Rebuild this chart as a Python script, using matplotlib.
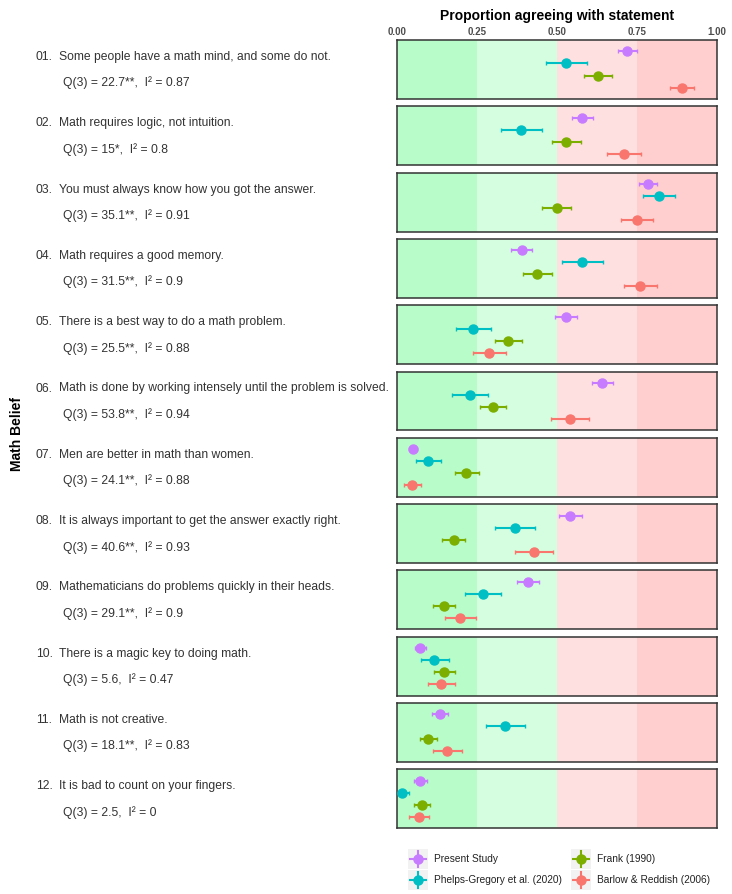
import matplotlib
matplotlib.use("Agg")
import matplotlib.pyplot as plt
from matplotlib.patches import Rectangle

plt.rcParams['font.family'] = ['Liberation Sans', 'DejaVu Sans']

# Datos
statements = [
    "Some people have a math mind, and some do not.",
    "Math requires logic, not intuition.",
    "You must always know how you got the answer.",
    "Math requires a good memory.",
    "There is a best way to do a math problem.",
    "Math is done by working intensely until the problem is solved.",
    "Men are better in math than women.",
    "It is always important to get the answer exactly right.",
    "Mathematicians do problems quickly in their heads.",
    "There is a magic key to doing math.",
    "Math is not creative.",
    "It is bad to count on your fingers.",
]
q_stats = ["22.7**", "15*", "35.1**", "31.5**", "25.5**", "53.8**",
           "24.1**", "40.6**", "29.1**", "5.6", "18.1**", "2.5"]
i2_stats = ["0.87", "0.8", "0.91", "0.9", "0.88", "0.94",
            "0.88", "0.93", "0.9", "0.47", "0.83", "0"]

studies = ["Present Study", "Phelps-Gregory et al. (2020)", "Frank (1990)", "Barlow & Reddish (2006)"]
colors = ["#C77CFF", "#00BFC4", "#7CAE00", "#F8766D"]

present_est = [0.72, 0.579, 0.783, 0.39, 0.527, 0.641, 0.049, 0.541, 0.41, 0.072, 0.134, 0.072]
present_lo = [0.69, 0.546, 0.755, 0.357, 0.493, 0.608, 0.036, 0.507, 0.375, 0.055, 0.11, 0.054]
present_hi = [0.75, 0.613, 0.812, 0.423, 0.562, 0.675, 0.062, 0.577, 0.444, 0.091, 0.159, 0.093]

phelps_est = [0.529, 0.389, 0.82, 0.579, 0.238, 0.228, 0.098, 0.368, 0.268, 0.117, 0.338, 0.017]
phelps_lo = [0.465, 0.326, 0.77, 0.516, 0.183, 0.173, 0.058, 0.306, 0.211, 0.075, 0.277, 0.002]
phelps_hi = [0.594, 0.452, 0.869, 0.643, 0.293, 0.284, 0.137, 0.431, 0.326, 0.161, 0.401, 0.037]

frank_est = [0.629, 0.529, 0.50, 0.439, 0.348, 0.299, 0.217, 0.178, 0.148, 0.148, 0.098, 0.077]
frank_lo = [0.585, 0.485, 0.454, 0.395, 0.306, 0.258, 0.18, 0.142, 0.114, 0.115, 0.071, 0.052]
frank_hi = [0.673, 0.574, 0.545, 0.483, 0.392, 0.341, 0.256, 0.213, 0.181, 0.181, 0.125, 0.103]

barlow_est = [0.89, 0.71, 0.749, 0.76, 0.288, 0.54, 0.048, 0.428, 0.198, 0.137, 0.157, 0.068]
barlow_lo = [0.853, 0.657, 0.70, 0.71, 0.236, 0.48, 0.021, 0.37, 0.151, 0.097, 0.114, 0.036]
barlow_hi = [0.928, 0.764, 0.801, 0.811, 0.342, 0.599, 0.075, 0.486, 0.246, 0.18, 0.202, 0.10]

series = [
    (present_est, present_lo, present_hi),
    (phelps_est, phelps_lo, phelps_hi),
    (frank_est, frank_lo, frank_hi),
    (barlow_est, barlow_lo, barlow_hi),
]

band_edges = [0, 0.25, 0.5, 0.75, 1.0]
band_colors = ["#B8FCC9", "#D4FEDF", "#FFE0E0", "#FFCFCF"]

W, H = 732, 894
fig = plt.figure(figsize=(W / 100, H / 100), dpi=100)

x0, x1 = 397, 717
top0, step, ph = 40, 66.3, 59
txt_col = "#333333"

for i in range(12):
    top = top0 + step * i
    ax = fig.add_axes([x0 / W, 1 - (top + ph) / H, (x1 - x0) / W, ph / H])
    for b in range(4):
        ax.axvspan(band_edges[b], band_edges[b + 1], color=band_colors[b], lw=0, zorder=0)
    for k, (est, lo, hi) in enumerate(series):
        ax.errorbar([est[i]], [k + 1], xerr=[[est[i] - lo[i]], [hi[i] - est[i]]],
                    fmt='o', color=colors[k], ms=6.5, elinewidth=1.5, capsize=1.5,
                    capthick=1.0, zorder=3, clip_on=False)
    ax.set_xlim(0, 1)
    ax.set_ylim(4.95, 0.05)
    ax.set_yticks([])
    for s in ax.spines.values():
        s.set_color("#333333")
        s.set_linewidth(1.1)
    if i == 0:
        ax.xaxis.tick_top()
        ax.set_xticks(band_edges)
        ax.set_xticklabels(["0.00", "0.25", "0.50", "0.75", "1.00"],
                           fontsize=7, color="#4d4d4d", fontweight='bold')
        ax.tick_params(axis='x', length=0, pad=2)
    else:
        ax.set_xticks([])

    # textos de la izquierda
    fig.text(36 / W, 1 - (top + 17) / H, "%02d." % (i + 1), fontsize=8.7,
             color=txt_col, va='center', ha='left')
    fig.text(59 / W, 1 - (top + 17) / H, statements[i], fontsize=8.7,
             color=txt_col, va='center', ha='left')
    fig.text(63 / W, 1 - (top + 43) / H,
             "Q(3) = %s,  I² = %s" % (q_stats[i], i2_stats[i]),
             fontsize=8.7, color=txt_col, va='center', ha='left')

fig.text((x0 + x1) / 2 / W, 1 - 16 / H, "Proportion agreeing with statement",
         fontsize=10, fontweight='bold', ha='center', va='center')
fig.text(17 / W, 1 - 434 / H, "Math Belief", fontsize=10, fontweight='bold',
         rotation=90, ha='center', va='center')

# leyenda dibujada a mano (claves con fondo gris)
lax = fig.add_axes([0, 0, 1, 1])
lax.set_xlim(0, W)
lax.set_ylim(H, 0)
lax.axis('off')
key_pos = [(418, 859), (418, 880), (581, 859), (581, 880)]
for (kx, ky), c, lab in zip(key_pos, colors, studies):
    lax.add_patch(Rectangle((kx - 10, ky - 10), 20, 20, color="#F2F2F2", lw=0))
    lax.plot([kx - 8, kx + 8], [ky, ky], color=c, lw=1.5)
    lax.plot([kx, kx], [ky - 8, ky + 8], color=c, lw=1.5)
    lax.plot([kx], [ky], 'o', color=c, ms=6.5)
    lax.text(kx + 16, ky, lab, fontsize=7.3, color="#222222", va='center', ha='left')

fig.savefig("out.png", dpi=100)
